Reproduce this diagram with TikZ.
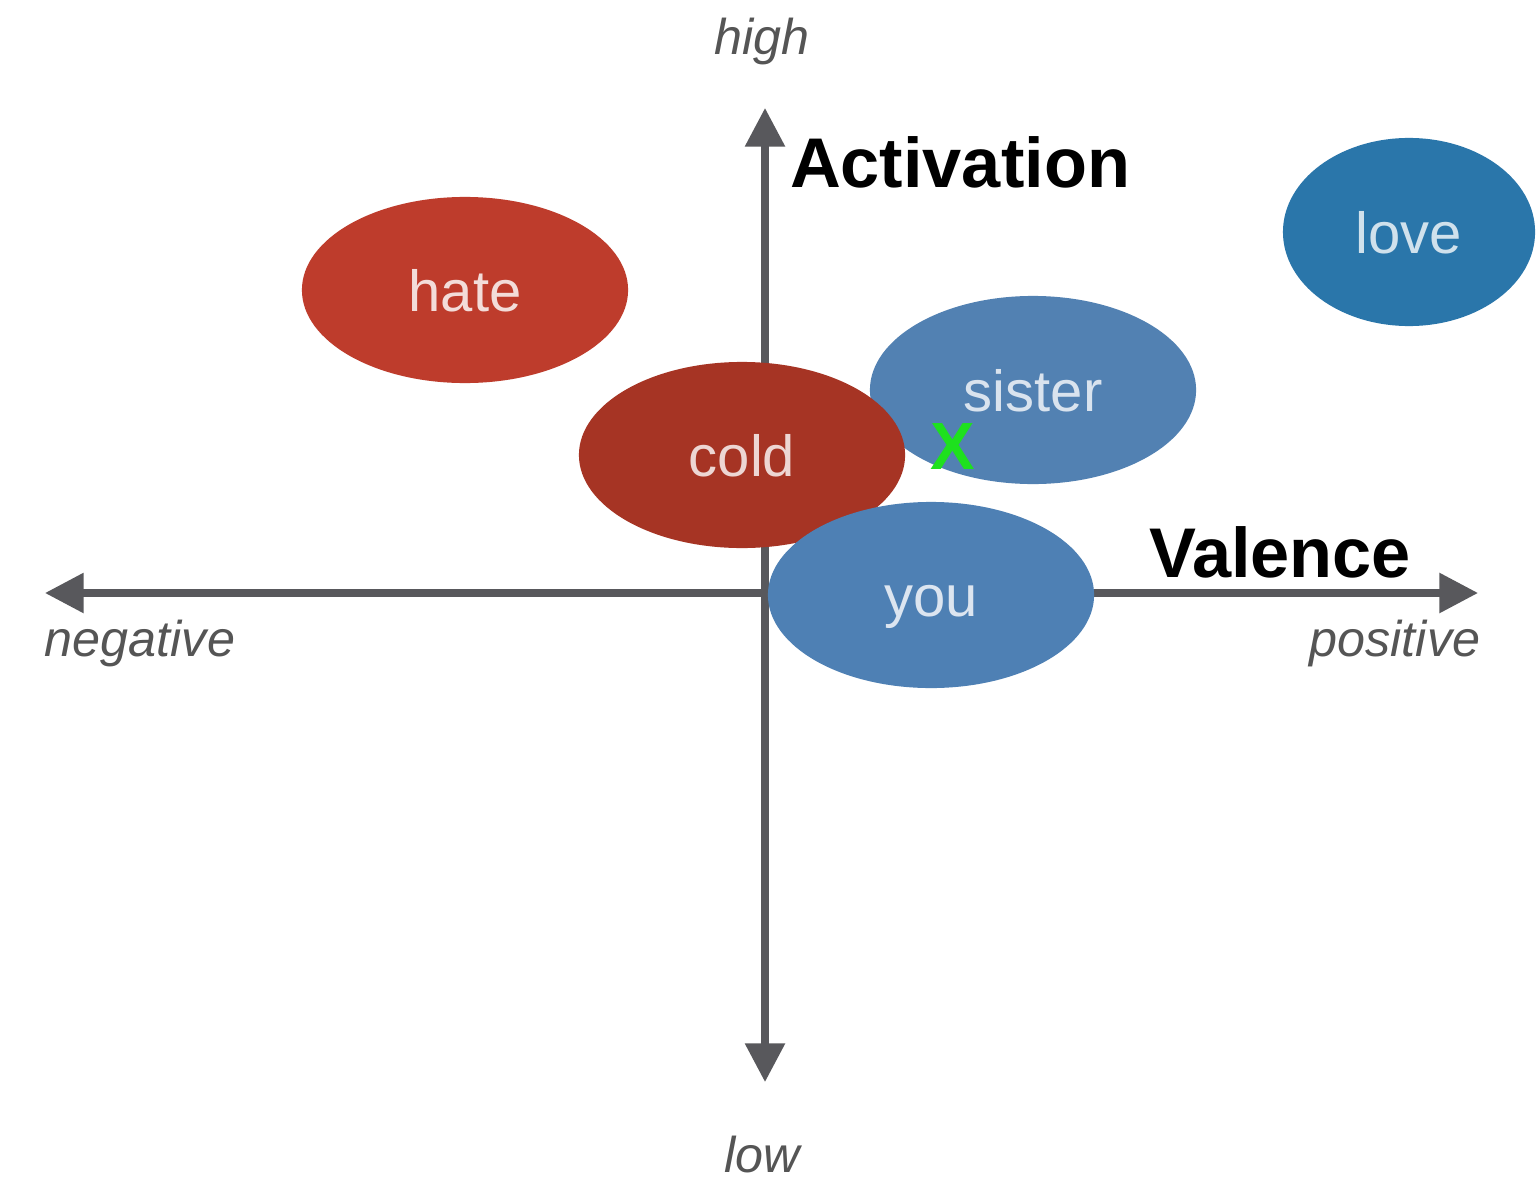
\documentclass[tikz,border=0pt]{standalone}
\usepackage{fontspec}
\setmainfont{Liberation Sans}
\usetikzlibrary{shapes.geometric,arrows.meta}
\definecolor{axisgray}{RGB}{88,88,92}
\definecolor{labgray}{RGB}{85,85,85}
\definecolor{hatecol}{RGB}{190,60,44}
\definecolor{coldcol}{RGB}{166,52,36}
\definecolor{sistercol}{RGB}{82,129,178}
\definecolor{youcol}{RGB}{78,128,180}
\definecolor{lovecol}{RGB}{42,118,170}
\definecolor{xgreen}{RGB}{30,225,30}
\tikzset{
  axisline/.style={draw=axisgray,line width=2pt,{Triangle[length=11pt,width=11pt]}-{Triangle[length=11pt,width=11pt]}},
  blob/.style={ellipse,inner sep=0pt,minimum width=3.26cm,minimum height=1.86cm,
    text height=12pt,text depth=0pt,
    font=\fontsize{16.5pt}{18pt}\selectfont},
  axlabel/.style={text=labgray,font=\fontsize{14.3pt}{16pt}\selectfont\itshape,inner sep=0pt},
  axtitle/.style={text=black,font=\fontsize{20pt}{22pt}\selectfont\bfseries,inner sep=0pt}
}
\begin{document}
\begin{tikzpicture}[x=0.01cm,y=-0.01cm]
\useasboundingbox[fill=white] (0,0) rectangle (1537,1179);
% axes
\coordinate (top) at (765,108);
\coordinate (bot) at (765,1082);
\coordinate (lft) at (45,593);
\coordinate (rgt) at (1478,593);
\draw[axisline] (bot) -- (top);
\draw[axisline] (lft) -- (rgt);
% axis labels
\node[axlabel] (high) at (762,42) {high};
\node[axlabel] (low) at (762,1155) {low};
\node[axlabel] (neg) at (140,643) {negative};
\node[axlabel] (pos) at (1395,643) {positive};
\node[axtitle] (act) at (960,162) {Activation};
\node[axtitle] (val) at (1280,552) {Valence};
% ellipses
\node[blob,fill=hatecol,text=white!82!hatecol] (hate) at (465,290) {hate};
\node[blob,minimum width=2.52cm,minimum height=1.88cm,fill=lovecol,text=white!78!lovecol] (love) at (1409,232) {love};
\node[blob,minimum height=1.88cm,fill=sistercol,text=white!78!sistercol] (sister) at (1033,390) {sister};
\node[blob,fill=coldcol,text=white!80!coldcol] (cold) at (742,455) {cold};
\node[blob,fill=youcol,text=white!80!youcol] (you) at (931,595) {you};
% green mark
\node[text=xgreen,font=\fontsize{19pt}{20pt}\selectfont\bfseries,inner sep=0pt] (mark) at (953,447) {X};
\end{tikzpicture}
\end{document}
